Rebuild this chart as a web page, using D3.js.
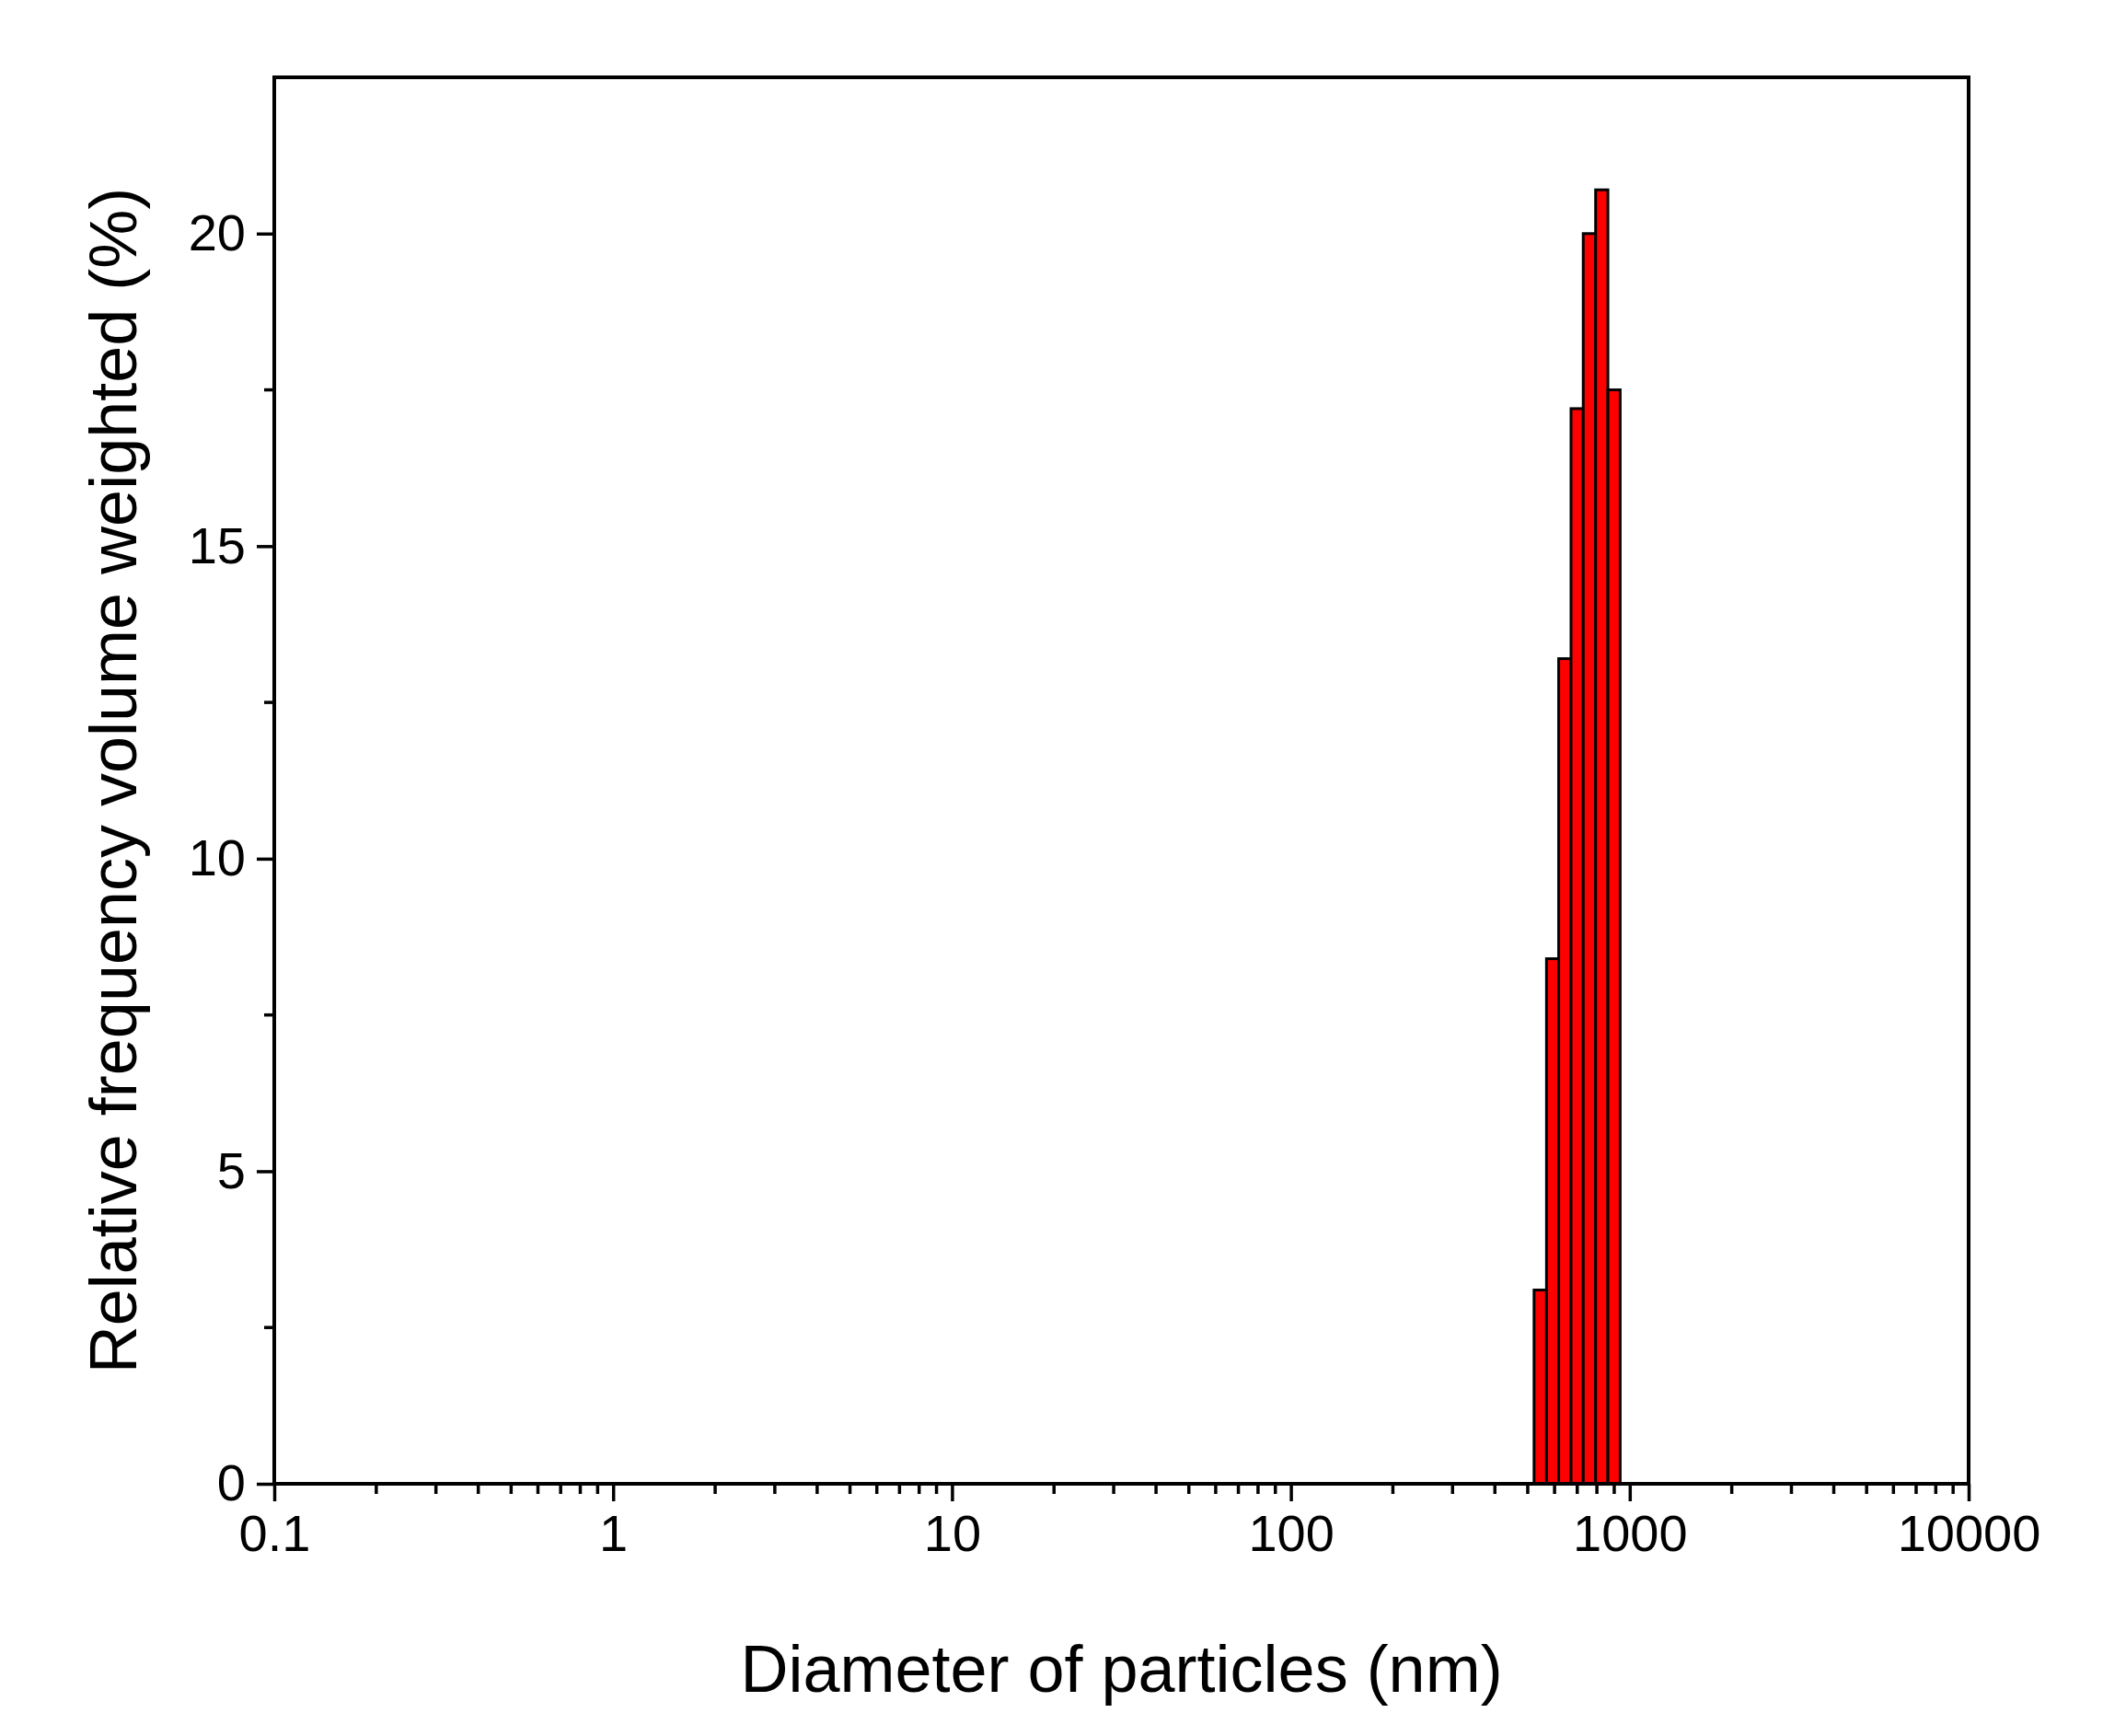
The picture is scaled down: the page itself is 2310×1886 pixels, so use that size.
<!DOCTYPE html>
<html><head><meta charset="utf-8">
<script src="https://cdn.jsdelivr.net/npm/d3@7"></script>
<style>body{margin:0;background:#fff}</style>
</head><body><div id="chart"></div>
<script>
// bin edges (nm) and relative frequency (%)
const binEdges = [522, 568, 617, 671, 729, 793, 862, 937]
const freqs = [3.1, 8.4, 13.2, 17.2, 20.0, 20.7, 17.5]
const xTicks = [0.1, 1, 10, 100, 1000, 10000]
const yTicks = [0, 5, 10, 15, 20]

const width = 2310, height = 1886
const margin = {top: 84, right: 171, bottom: 274, left: 298}
const iw = width - margin.left - margin.right
const ih = height - margin.top - margin.bottom

const svg = d3.select("#chart").append("svg").attr("width", width).attr("height", height)
    .style("font-family", "'Liberation Sans', Arial, sans-serif")
const g = svg.append("g").attr("transform", `translate(${margin.left},${margin.top})`)

const x = d3.scaleLog().domain([0.1, 10000]).range([0, iw])
const y = d3.scaleLinear().domain([0, 22.5]).range([ih, 0])

// bars
g.selectAll(".bar").data(freqs).enter().append("rect")
    .attr("x", (d, i) => x(binEdges[i]))
    .attr("width", (d, i) => x(binEdges[i + 1]) - x(binEdges[i]))
    .attr("y", d => y(d))
    .attr("height", d => y(0) - y(d))
    .attr("fill", "#ff0000").attr("stroke", "#000").attr("stroke-width", 3)

// minor ticks
const minorX = []
for (let e = -1; e < 4; e++) for (let k = 2; k <= 9; k++) minorX.push(k * Math.pow(10, e))
g.selectAll(".mx").data(minorX).enter().append("line")
    .attr("x1", d => x(d)).attr("x2", d => x(d)).attr("y1", ih).attr("y2", ih + 11)
    .attr("stroke", "#000").attr("stroke-width", 3.5)
g.selectAll(".my").data([2.5, 7.5, 12.5, 17.5]).enter().append("line")
    .attr("y1", d => y(d)).attr("y2", d => y(d)).attr("x1", 0).attr("x2", -11)
    .attr("stroke", "#000").attr("stroke-width", 3.5)

// axes
const xAxis = g.append("g").attr("transform", `translate(0,${ih})`)
    .call(d3.axisBottom(x).tickValues(xTicks).tickFormat(d => String(d)).tickSize(19).tickPadding(14).tickSizeOuter(0))
const yAxis = g.append("g")
    .call(d3.axisLeft(y).tickValues(yTicks).tickSize(19).tickPadding(12).tickSizeOuter(0))
;[xAxis, yAxis].forEach(a => {
    a.select(".domain").remove()
    a.selectAll("line").attr("stroke-width", 3.5)
    a.selectAll("text").style("font-size", "56px").attr("fill", "#000")
})

// frame
g.append("rect").attr("width", iw).attr("height", ih)
    .attr("fill", "none").attr("stroke", "#000").attr("stroke-width", 4)

// titles
svg.append("text").attr("x", margin.left + iw / 2).attr("y", 1838)
    .attr("text-anchor", "middle").style("font-size", "72px").text("Diameter of particles (nm)")
svg.append("text").attr("transform", `translate(148,${margin.top + ih / 2}) rotate(-90)`)
    .attr("text-anchor", "middle").style("font-size", "72px").text("Relative frequency volume weighted (%)")
</script></body></html>
